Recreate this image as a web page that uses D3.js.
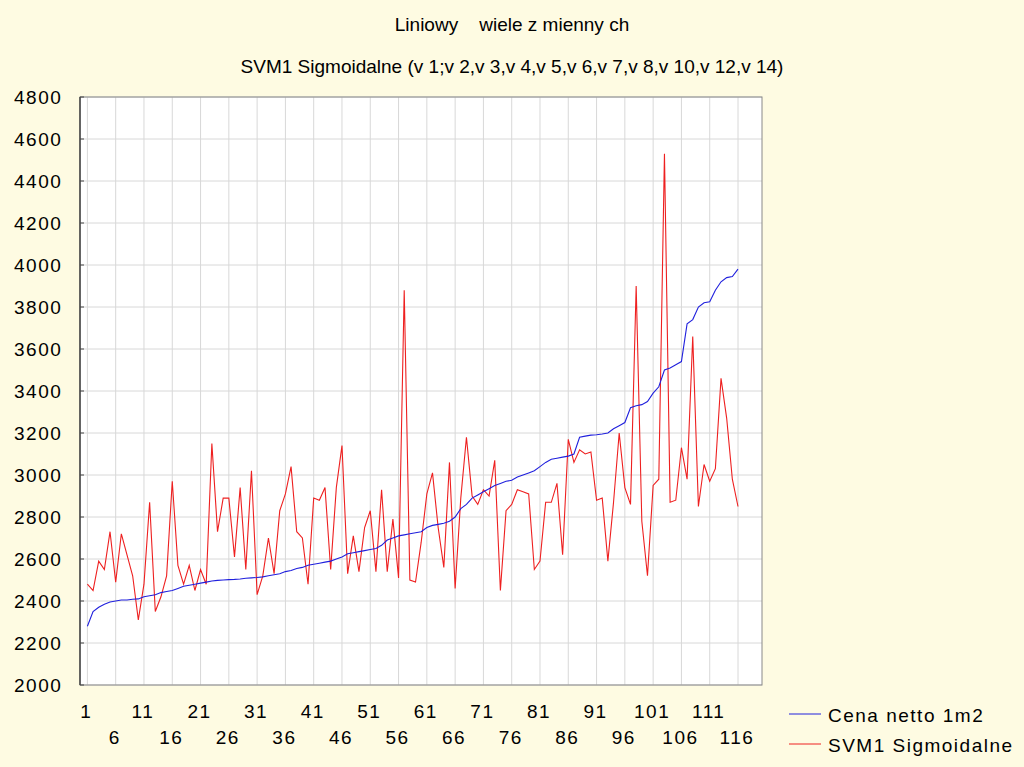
<!DOCTYPE html><html><head><meta charset="utf-8"><script src="https://cdn.jsdelivr.net/npm/d3@7"></script>
<style>body{margin:0;background:#fefbe2}text{font-family:"Liberation Sans",Arial,sans-serif;white-space:pre}</style></head><body><svg id="c" width="1024" height="767"></svg>
<script>
const titles=["Liniowy    wiele z mienny ch","SVM1 Sigmoidalne (v 1;v 2,v 3,v 4,v 5,v 6,v 7,v 8,v 10,v 12,v 14)"];
const seriesNames=["Cena netto 1m2","SVM1 Sigmoidalne"];
const yTicks=[2000,2200,2400,2600,2800,3000,3200,3400,3600,3800,4000,4200,4400,4600,4800];
const xTicks=[1,6,11,16,21,26,31,36,41,46,51,56,61,66,71,76,81,86,91,96,101,106,111,116];
const cena=[2280,2350,2370,2385,2395,2400,2405,2405,2408,2410,2420,2425,2430,2440,2445,2450,2460,2470,2475,2480,2485,2490,2495,2498,2500,2502,2503,2505,2508,2510,2512,2515,2520,2525,2530,2540,2545,2555,2560,2570,2575,2580,2585,2590,2600,2610,2625,2630,2635,2640,2645,2650,2665,2690,2700,2710,2715,2720,2725,2730,2750,2760,2765,2770,2780,2800,2840,2860,2890,2905,2920,2935,2950,2960,2970,2975,2990,3000,3010,3020,3040,3060,3075,3080,3085,3090,3100,3180,3185,3190,3192,3195,3200,3220,3235,3250,3320,3330,3335,3350,3390,3420,3500,3510,3525,3540,3720,3740,3800,3820,3825,3880,3920,3940,3945,3980];
const svm=[2480,2450,2590,2550,2730,2490,2720,2620,2520,2310,2480,2870,2350,2420,2520,2970,2570,2480,2570,2450,2550,2480,3150,2730,2890,2890,2610,2940,2550,3020,2430,2520,2700,2530,2830,2910,3040,2730,2700,2480,2890,2880,2940,2550,2940,3140,2530,2710,2540,2750,2830,2540,2930,2540,2790,2510,3880,2500,2490,2680,2910,3010,2750,2560,3060,2460,2890,3180,2900,2860,2930,2900,3070,2450,2830,2860,2930,2920,2910,2550,2590,2870,2870,2960,2620,3170,3060,3120,3100,3110,2880,2890,2590,2870,3200,2940,2860,3900,2780,2520,2950,2980,4530,2870,2880,3130,2980,3660,2850,3050,2970,3030,3460,3270,2980,2850];
const svg=d3.select("#c");
const L=80,R=762,T=97,B=685;
const x=d3.scaleLinear().domain([1,116]).range([87.4,738]);
const y=d3.scaleLinear().domain([2000,4800]).range([B,T]);
svg.append("rect").attr("x",L).attr("y",T).attr("width",R-L).attr("height",B-T).attr("fill","#fff");
svg.append("g").selectAll("line").data(xTicks).join("line").attr("x1",d=>x(d)).attr("x2",d=>x(d)).attr("y1",T).attr("y2",B).attr("stroke","#d8d8d8");
svg.append("g").selectAll("line").data(yTicks).join("line").attr("x1",L).attr("x2",R).attr("y1",d=>y(d)).attr("y2",d=>y(d)).attr("stroke","#d8d8d8");
svg.append("rect").attr("x",L).attr("y",T).attr("width",R-L).attr("height",B-T).attr("fill","none").attr("stroke","#888");
svg.append("line").attr("x1",L).attr("x2",L).attr("y1",T).attr("y2",B).attr("stroke","#444").attr("stroke-width",1.5);
svg.append("g").selectAll("line").data(yTicks).join("line").attr("x1",L).attr("x2",L+4).attr("y1",d=>y(d)).attr("y2",d=>y(d)).attr("stroke","#444");
svg.append("g").selectAll("text").data(yTicks).join("text").attr("x",14).attr("y",d=>y(d)+7).attr("font-size",19).attr("letter-spacing",1.5).text(d=>d);
svg.append("g").selectAll("text").data(xTicks).join("text").attr("x",d=>x(d)-1).attr("y",(d,i)=>i%2?744:718).attr("text-anchor","middle").attr("font-size",19).attr("letter-spacing",1.5).text(d=>d);
const line=d3.line().x((d,i)=>x(i+1)).y(d=>y(d));
svg.append("path").attr("d",line(svm)).attr("fill","none").attr("stroke","#ee2020").attr("stroke-width",1.1);
svg.append("path").attr("d",line(cena)).attr("fill","none").attr("stroke","#2020dd").attr("stroke-width",1.1);
svg.append("text").attr("x",512).attr("y",31).attr("text-anchor","middle").attr("font-size",19).text(titles[0]);
svg.append("text").attr("x",512).attr("y",73).attr("text-anchor","middle").attr("font-size",19).text(titles[1]);
const cols=["#2020dd","#ee2020"];
seriesNames.forEach((n,i)=>{const yy=714+i*30;
svg.append("line").attr("x1",789).attr("x2",821).attr("y1",yy).attr("y2",yy).attr("stroke",cols[i]);
svg.append("text").attr("x",828).attr("y",yy+8).attr("font-size",19).attr("letter-spacing",1.5).text(n);});
</script></body></html>
